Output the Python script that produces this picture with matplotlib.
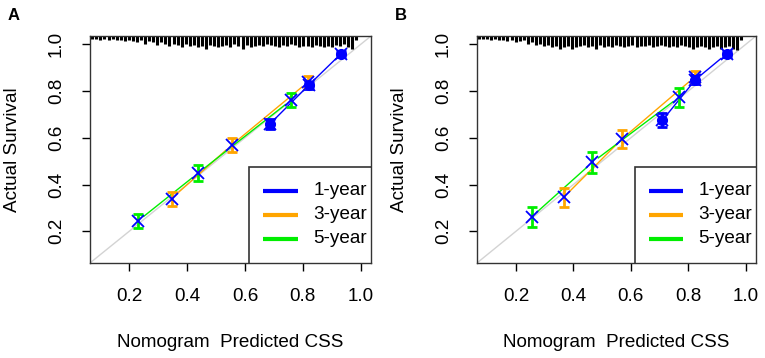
import numpy as np
import matplotlib
matplotlib.use('Agg')
import matplotlib.pyplot as plt
from matplotlib.patches import Rectangle

plt.rc('font', family='Liberation Sans', size=13.6)

# ---- data ----
series_names = ['1-year', '3-year', '5-year']
series_colors = ['#0000FF', '#FFA500', '#00EE00']

# panel A
a_x = {'1-year': [0.686, 0.821, 0.932],
       '3-year': [0.346, 0.554, 0.817],
       '5-year': [0.230, 0.438, 0.760]}
a_y = {'1-year': [0.659, 0.826, 0.960],
       '3-year': [0.340, 0.569, 0.838],
       '5-year': [0.244, 0.449, 0.762]}
a_err = {'1-year': [0.022, 0.015, 0.012],
         '3-year': [0.030, 0.030, 0.025],
         '5-year': [0.030, 0.035, 0.032]}

# panel B
b_x = {'1-year': [0.710, 0.825, 0.934],
       '3-year': [0.366, 0.569, 0.822],
       '5-year': [0.254, 0.466, 0.768]}
b_y = {'1-year': [0.675, 0.849, 0.960],
       '3-year': [0.345, 0.595, 0.860],
       '5-year': [0.261, 0.495, 0.774]}
b_err = {'1-year': [0.030, 0.018, 0.012],
         '3-year': [0.040, 0.040, 0.027],
         '5-year': [0.042, 0.046, 0.040]}

# histogram of predicted values drawn along the top (bar lengths, px)
rug_a = [2, 2, 3, 2, 3, 2, 3, 3, 4, 3, 4, 5, 3, 6, 4, 5, 7, 5, 6, 8, 6, 7, 9, 6,
         8, 7, 9, 8, 10, 7, 8, 9, 8, 7, 9, 6, 8, 10, 7, 9, 8, 7, 8, 6, 7, 8, 9,
         7, 8, 6, 7, 9, 8, 8, 9, 7, 8, 9, 8, 9, 7, 8, 6, 9, 10, 3]
rug_b = [2, 2, 2, 3, 2, 3, 3, 4, 3, 5, 4, 3, 6, 5, 7, 6, 8, 7, 9, 8, 10, 9, 8,
         10, 9, 8, 7, 9, 8, 10, 7, 9, 8, 9, 7, 8, 9, 8, 7, 9, 8, 8, 7, 9, 8, 7,
         8, 9, 8, 9, 7, 8, 9, 10, 9, 8, 9, 10, 9, 8, 10, 9, 8, 10, 11, 3]

ticks = [0.2, 0.4, 0.6, 0.8, 1.0]
lims = (0.064, 1.036)


def shortened(xs, ys, gap=0.028):
    # R type="b" style: segments stop short of each point
    segs = []
    for i in range(len(xs) - 1):
        x0, y0, x1, y1 = xs[i], ys[i], xs[i + 1], ys[i + 1]
        d = np.hypot(x1 - x0, y1 - y0)
        ux, uy = (x1 - x0) / d, (y1 - y0) / d
        segs.append(([x0 + gap * ux, x1 - gap * ux], [y0 + gap * uy, y1 - gap * uy]))
    return segs


def calib_panel(ax, xs, ys, errs, rug):
    ax.set_xlim(*lims)
    ax.set_ylim(*lims)
    ax.axline((0, 0), (1, 1), color='#D3D3D3', lw=1, zorder=1)

    # top rug / histogram
    pos = np.linspace(0.072, 0.985, len(rug))
    ax.vlines(pos, 1, 1 - 1.25 * np.array(rug) / 227, transform=ax.get_xaxis_transform(),
              color='black', lw=2.2, zorder=2)

    for name, col in zip(series_names, series_colors):
        x, y, e = xs[name], ys[name], errs[name]
        for sx, sy in shortened(x, y):
            ax.plot(sx, sy, color=col, lw=1.0, zorder=3)
        ax.errorbar(x, y, yerr=e, fmt='none', ecolor=col, elinewidth=2.0,
                    capsize=3.5, capthick=2.0, zorder=4)
        if name == '1-year':
            ax.plot(x, y, 'o', color=col, ms=7, zorder=5)
        ax.plot(x, y, 'x', color='#0000FF', ms=9, mew=1.3, zorder=6)

    ax.set_xticks(ticks)
    ax.set_yticks(ticks)
    ax.set_xticklabels(['%.1f' % t for t in ticks])
    ax.set_yticklabels(['%.1f' % t for t in ticks], rotation=90, va='center')
    ax.tick_params(direction='out', length=6, width=1, pad=12)
    for s in ax.spines.values():
        s.set_linewidth(1)
        s.set_color('#333333')

    ax.set_xlabel('Nomogram  Predicted CSS', va='center')
    ax.set_ylabel('Actual Survival', va='center')
    ax.xaxis.set_label_coords(0.5, -0.352)
    ax.yaxis.set_label_coords(-0.277, 0.5)

    # legend box in R style, clipped by the plot region
    ax.add_patch(Rectangle((0.566, -0.01), 0.6, 0.433, transform=ax.transAxes,
                           fill=False, ec='#333333', lw=1.2, clip_on=True, zorder=7))
    for i, (name, col) in enumerate(zip(series_names, series_colors)):
        yy = 0.318 - i * 0.106
        ax.plot([0.616, 0.740], [yy, yy], transform=ax.transAxes, color=col,
                lw=3, solid_capstyle='butt', zorder=8)
        ax.text(0.794, yy, name, transform=ax.transAxes, va='center',
                ha='left', zorder=8, clip_on=True)


fig = plt.figure(figsize=(7.65, 3.58), dpi=100)
axA = fig.add_axes([0.1176, 0.2654, 0.3674, 0.634])
axB = fig.add_axes([0.6235, 0.2654, 0.3647, 0.634])

calib_panel(axA, a_x, a_y, a_err, rug_a)
calib_panel(axB, b_x, b_y, b_err, rug_b)

fig.text(8 / 765, 1 - 16 / 358, 'A', fontsize=12, fontweight='bold', va='center')
fig.text(395 / 765, 1 - 16 / 358, 'B', fontsize=12, fontweight='bold', va='center')

fig.savefig('out.png', dpi=100)
